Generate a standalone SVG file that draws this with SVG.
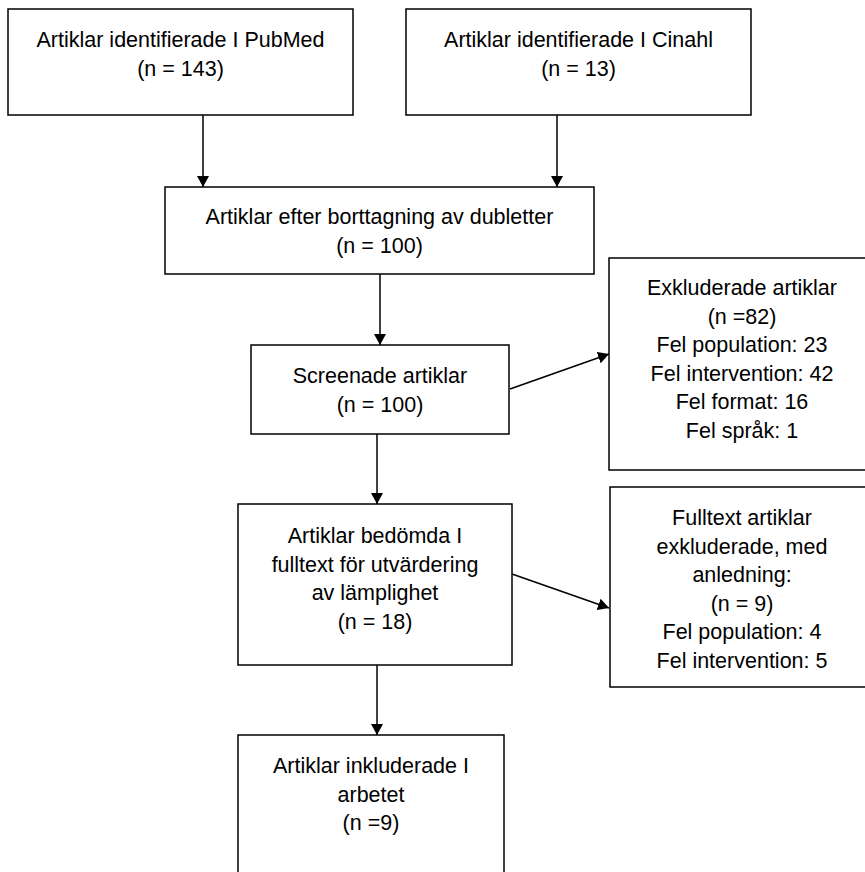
<svg xmlns="http://www.w3.org/2000/svg" width="865" height="872" viewBox="0 0 865 872">
<style>
.box{fill:#fff;stroke:#000;stroke-width:1.5}
.t{font-family:"Liberation Sans",Arial,sans-serif;font-size:21.5px;fill:#000;text-anchor:middle}
.c{stroke:#000;stroke-width:1.5;fill:none}
</style>
<defs>
<marker id="ah" viewBox="0 0 11 12" refX="11" refY="6" markerWidth="11" markerHeight="12" markerUnits="userSpaceOnUse" orient="auto">
<path d="M0,0 L11,6 L0,12 Z" fill="#000"/>
</marker>
</defs>
<rect width="865" height="872" fill="#fff"/>
<g id="connectors">
<line class="c" x1="203" y1="115" x2="203" y2="187" marker-end="url(#ah)"/>
<line class="c" x1="557" y1="115" x2="557" y2="187" marker-end="url(#ah)"/>
<line class="c" x1="380" y1="274" x2="380" y2="345" marker-end="url(#ah)"/>
<line class="c" x1="377" y1="434" x2="377" y2="504" marker-end="url(#ah)"/>
<line class="c" x1="377" y1="665" x2="377" y2="735" marker-end="url(#ah)"/>
<line class="c" x1="510" y1="389" x2="609" y2="354" marker-end="url(#ah)"/>
<line class="c" x1="512" y1="574" x2="609" y2="608" marker-end="url(#ah)"/>
</g>
<g id="pubmed">
<rect class="box" x="8" y="9" width="345" height="106"/>
<text class="t" x="180.5" y="47">Artiklar identifierade I PubMed</text>
<text class="t" x="180.5" y="76">(n = 143)</text>
</g>
<g id="cinahl">
<rect class="box" x="406" y="9" width="345" height="106"/>
<text class="t" x="578.5" y="47">Artiklar identifierade I Cinahl</text>
<text class="t" x="578.5" y="76">(n = 13)</text>
</g>
<g id="dubletter">
<rect class="box" x="165" y="187" width="429" height="87"/>
<text class="t" x="379.5" y="224">Artiklar efter borttagning av dubletter</text>
<text class="t" x="379.5" y="253">(n = 100)</text>
</g>
<g id="screenade">
<rect class="box" x="251" y="345" width="258" height="89"/>
<text class="t" x="380" y="383">Screenade artiklar</text>
<text class="t" x="380" y="412">(n = 100)</text>
</g>
<g id="exkluderade">
<rect class="box" x="609" y="258" width="266" height="212"/>
<text class="t" x="742" y="295">Exkluderade artiklar</text>
<text class="t" x="742" y="323.5">(n =82)</text>
<text class="t" x="742" y="352">Fel population: 23</text>
<text class="t" x="742" y="380.5">Fel intervention: 42</text>
<text class="t" x="742" y="409">Fel format: 16</text>
<text class="t" x="742" y="437.5">Fel språk: 1</text>
</g>
<g id="bedomda">
<rect class="box" x="238" y="504" width="274" height="161"/>
<text class="t" x="375" y="543">Artiklar bedömda I</text>
<text class="t" x="375" y="571.5">fulltext för utvärdering</text>
<text class="t" x="375" y="600">av lämplighet</text>
<text class="t" x="375" y="628.5">(n = 18)</text>
</g>
<g id="fulltext">
<rect class="box" x="610" y="487" width="264" height="200"/>
<text class="t" x="742" y="525">Fulltext artiklar</text>
<text class="t" x="742" y="553.5">exkluderade, med</text>
<text class="t" x="742" y="582">anledning:</text>
<text class="t" x="742" y="610.5">(n = 9)</text>
<text class="t" x="742" y="639">Fel population: 4</text>
<text class="t" x="742" y="667.5">Fel intervention: 5</text>
</g>
<g id="inkluderade">
<rect class="box" x="238" y="735" width="266" height="150"/>
<text class="t" x="371" y="773">Artiklar inkluderade I</text>
<text class="t" x="371" y="801.5">arbetet</text>
<text class="t" x="371" y="830">(n =9)</text>
</g>
</svg>
